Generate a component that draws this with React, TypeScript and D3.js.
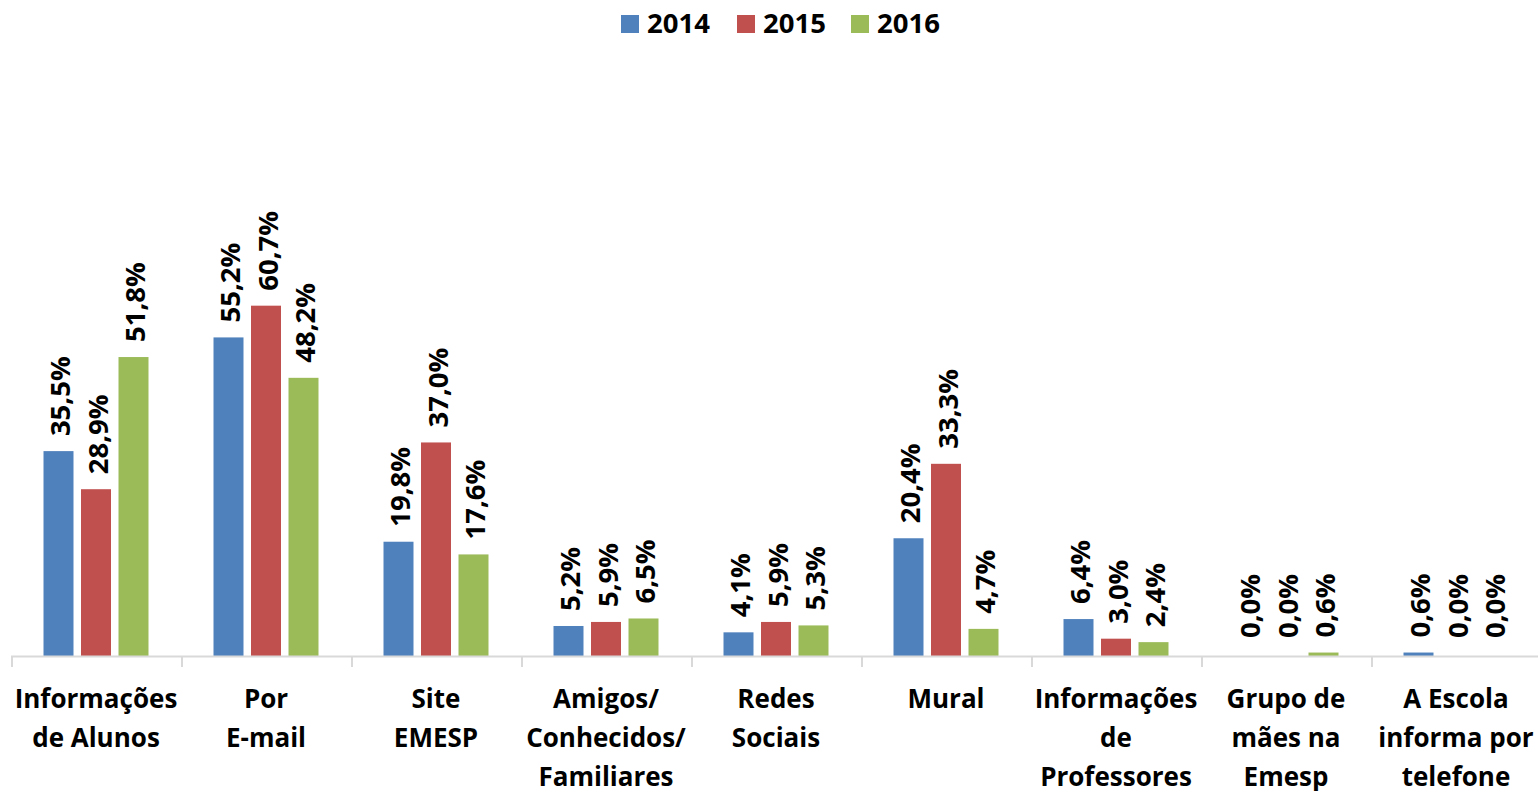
import { useEffect, useRef } from 'react';
import * as d3 from 'd3';

const categories = [
  'Informações de Alunos',
  'Por E-mail',
  'Site EMESP',
  'Amigos/ Conhecidos/ Familiares',
  'Redes Sociais',
  'Mural',
  'Informações de Professores',
  'Grupo de mães na Emesp',
  'A Escola informa por telefone',
];

const categoryLines = [
  ['Informações', 'de Alunos'],
  ['Por', 'E-mail'],
  ['Site', 'EMESP'],
  ['Amigos/', 'Conhecidos/', 'Familiares'],
  ['Redes', 'Sociais'],
  ['Mural'],
  ['Informações', 'de', 'Professores'],
  ['Grupo de', 'mães na', 'Emesp'],
  ['A Escola', 'informa por', 'telefone'],
];

const years = ['2014', '2015', '2016'];

const values2014 = [35.5, 55.2, 19.8, 5.2, 4.1, 20.4, 6.4, 0.0, 0.6];
const values2015 = [28.9, 60.7, 37.0, 5.9, 5.9, 33.3, 3.0, 0.0, 0.0];
const values2016 = [51.8, 48.2, 17.6, 6.5, 5.3, 4.7, 2.4, 0.6, 0.0];

const colors = ['#4F81BD', '#C0504D', '#9BBB59'];

const FONT = '"Open Sans", Calibri, sans-serif';

export default function App() {
  const ref = useRef<SVGSVGElement>(null);

  useEffect(() => {
    if (!ref.current) return;
    const svg = d3.select(ref.current);
    svg.selectAll('*').remove();

    const baseline = 656;
    const series = [values2014, values2015, values2016];

    const x = d3.scaleBand<string>()
      .domain(categories)
      .range([11, 1541]);

    const half = 56.25;
    const y = d3.scaleLinear().domain([0, 70]).range([baseline, 252]);
    const fmt = (v: number) => d3.format('.1f')(v).replace('.', ',') + '%';

    // bars + value labels
    categories.forEach((cat, ci) => {
      const c = (x(cat) as number) + x.bandwidth() / 2;
      const xs = d3.scaleBand<string>()
        .domain(years)
        .range([c - half, c + half])
        .paddingInner(0.2)
        .paddingOuter(0.1);

      years.forEach((yr, si) => {
        const v = series[si][ci];
        const bx = xs(yr) as number;
        svg.append('rect')
          .attr('x', bx)
          .attr('y', y(v))
          .attr('width', xs.bandwidth())
          .attr('height', baseline - y(v))
          .attr('fill', colors[si]);

        const lx = bx + xs.bandwidth() / 2;
        const ly = Math.min(y(v) - 15, baseline - 18);
        svg.append('text')
          .attr('transform', `translate(${lx + 1},${ly}) rotate(-90)`)
          .attr('dominant-baseline', 'central')
          .attr('font-family', FONT)
          .attr('font-weight', 700)
          .attr('font-size', 27.5)
          .attr('fill', '#000')
          .text(fmt(v));
      });
    });

    // axis
    svg.append('line')
      .attr('x1', 11).attr('x2', 1541)
      .attr('y1', baseline + 0.5).attr('y2', baseline + 0.5)
      .attr('stroke', '#d9d9d9').attr('stroke-width', 2);

    const tickXs = categories.map(c => x(c) as number);
    svg.selectAll('.tick')
      .data(tickXs)
      .enter()
      .append('line')
      .attr('x1', d => d + 1).attr('x2', d => d + 1)
      .attr('y1', baseline).attr('y2', baseline + 11)
      .attr('stroke', '#d9d9d9').attr('stroke-width', 2);

    // category labels
    categories.forEach((cat, ci) => {
      const c = (x(cat) as number) + x.bandwidth() / 2;
      const t = svg.append('text')
        .attr('text-anchor', 'middle')
        .attr('font-family', FONT)
        .attr('font-weight', 700)
        .attr('font-size', 26)
        .attr('fill', '#000');
      categoryLines[ci].forEach((line, li) => {
        t.append('tspan')
          .attr('x', c)
          .attr('y', 708 + li * 39)
          .text(line);
      });
    });

    // legend
    const legendX = [621, 737, 851];
    years.forEach((yr, si) => {
      svg.append('rect')
        .attr('x', legendX[si]).attr('y', 15)
        .attr('width', 18).attr('height', 18)
        .attr('fill', colors[si]);
      svg.append('text')
        .attr('x', legendX[si] + 26).attr('y', 33)
        .attr('font-family', FONT)
        .attr('font-weight', 700)
        .attr('font-size', 27.5)
        .attr('fill', '#000')
        .text(yr);
    });
  }, []);

  return (
    <svg
      ref={ref}
      width={1538}
      height={791}
      style={{ position: 'absolute', left: 0, top: 0, background: '#fff' }}
    />
  );
}
